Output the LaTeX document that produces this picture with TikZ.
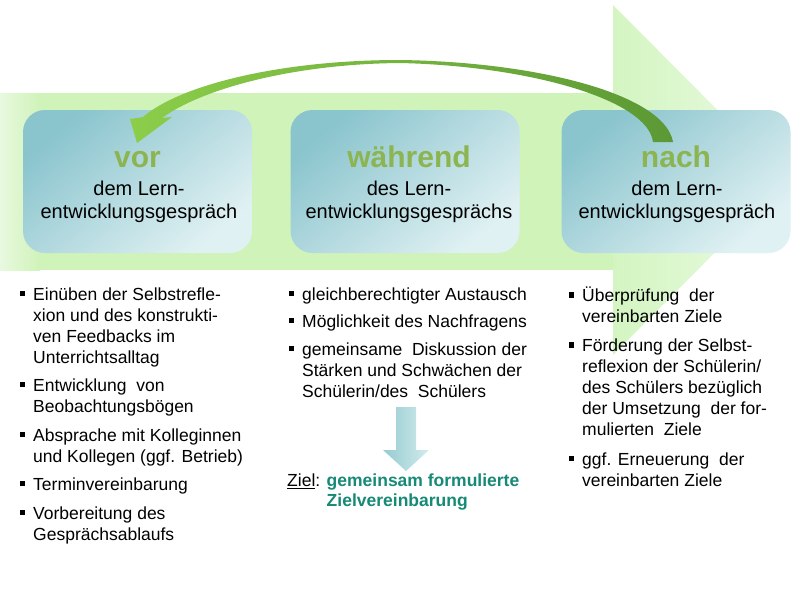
\documentclass[tikz,border=0pt]{standalone}
\usepackage{fontspec}
\setmainfont{Liberation Sans}
\definecolor{bodygreen}{RGB}{208,243,185}
\definecolor{bodyfade}{RGB}{232,249,224}
\definecolor{headgreen}{RGB}{212,245,194}
\definecolor{headfade}{RGB}{234,250,226}
\definecolor{boxdark}{RGB}{138,196,205}
\definecolor{boxlight}{RGB}{224,241,243}
\definecolor{titlegreen}{RGB}{140,180,80}
\definecolor{arrowlight}{RGB}{140,206,74}
\definecolor{arrowdark}{RGB}{92,152,52}
\definecolor{zielteal}{RGB}{22,138,118}
\definecolor{downdark}{RGB}{150,203,208}
\definecolor{downlight}{RGB}{210,235,237}
\newcommand\mybullet{\makebox[0pt][r]{\rule[4pt]{5.5pt}{5.5pt}\hspace{8pt}}}
\newcommand\mylines[1]{\begin{tabular}[t]{@{}l@{}}#1\end{tabular}}
\begin{document}
\begin{tikzpicture}[x=1pt,y=-1pt,
  phase/.style={rounded corners=22pt, top color=boxdark, bottom color=boxlight,
    shading angle=40, minimum width=229pt, minimum height=143pt, inner sep=0pt},
  phasetitle/.style={anchor=base, inner sep=0pt, text=titlegreen,
    font=\fontsize{30}{35}\selectfont\bfseries},
  phasesub/.style={anchor=base, inner sep=0pt, font=\fontsize{20}{23}\selectfont},
  listitem/.style={anchor=base west, inner sep=0pt,
    font=\fontsize{17.5}{21}\selectfont}]
\useasboundingbox (0,0) rectangle (800,600);
\fill[white] (0,0) rectangle (800,600);
% big background arrow
\shade[left color=bodyfade, right color=bodygreen] (0,93) rectangle (40,270);
\fill[bodygreen] (39.5,93) rectangle (613.5,270);
\shade[left color=headgreen, right color=headfade] (613,5) -- (787,180) -- (613,355) -- cycle;
% phase boxes
\node[phase] (b1) at (137.5,181.5) {};
\node[phase] (b2) at (405,181.5) {};
\node[phase] (b3) at (676,181.5) {};
% curved arrow
\shade[left color=arrowlight, right color=arrowdark]
  (673,142) .. controls (665,95) and (540,62) .. (400,60)
  .. controls (280,60) and (180,85) .. (143,117)
  -- (130,119) -- (137,143) -- (172,117) -- (162,118)
  .. controls (200,90) and (290,64) .. (400,63)
  .. controls (530,66) and (648,100) .. (653,142) -- cycle;
% titles
\node[phasetitle] (t1) at (137.5,167) {vor};
\node[phasetitle] (t2) at (409,167) {während};
\node[phasetitle] (t3) at (676,167) {nach};
\node[phasesub] (s1a) at (139,195) {dem Lern-};
\node[phasesub] (s1b) at (139,218) {entwicklungsgespräch};
\node[phasesub] (s2a) at (409,195) {des Lern-};
\node[phasesub] (s2b) at (409,218) {entwicklungsgesprächs};
\node[phasesub] (s3a) at (677,195) {dem Lern-};
\node[phasesub] (s3b) at (677,218) {entwicklungsgespräch};
% left list
\node[listitem] (l1) at (33,300) {\mylines{\mybullet Einüben der Selbstrefle-\\xion und des konstrukti-\\ven Feedbacks im\\Unterrichtsalltag}};
\node[listitem] (l2) at (33,391) {\mylines{\mybullet Entwicklung\ \ von\\Beobachtungsbögen}};
\node[listitem] (l3) at (33,441) {\mylines{\mybullet Absprache mit Kolleginnen\\und Kollegen (ggf. Betrieb)}};
\node[listitem] (l4) at (33,490) {\mylines{\mybullet Terminvereinbarung}};
\node[listitem] (l5) at (33,519) {\mylines{\mybullet Vorbereitung des\\Gesprächsablaufs}};
% middle list
\node[listitem] (m1) at (302,300) {\mylines{\mybullet gleichberechtigter Austausch}};
\node[listitem] (m2) at (302,327) {\mylines{\mybullet Möglichkeit des Nachfragens}};
\node[listitem] (m3) at (302,355) {\mylines{\mybullet gemeinsame\ \ Diskussion der\\Stärken und Schwächen der\\Schülerin/des\ \ Schülers}};
% down arrow
\shade[left color=downdark, right color=downlight]
  (396,407) -- (416,407) -- (416,450) -- (429,450) -- (406,471)
  -- (383,450) -- (396,450) -- cycle;
\node[listitem, font=\fontsize{17.5}{20}\selectfont] (z) at (287,486.5)
  {\mylines{\underline{Ziel}: \textcolor{zielteal}{\bfseries gemeinsam formulierte}\\
   \hphantom{Ziel: }\textcolor{zielteal}{\bfseries Zielvereinbarung}}};
% right list
\node[listitem] (r1) at (582,301.5) {\mylines{\mybullet Überprüfung\ \ der\\vereinbarten Ziele}};
\node[listitem] (r2) at (582,351.5) {\mylines{\mybullet Förderung der Selbst-\\reflexion der Schülerin/\\des Schülers bezüglich\\der Umsetzung\ \ der for-\\mulierten\ \ Ziele}};
\node[listitem] (r3) at (582,465) {\mylines{\mybullet ggf. Erneuerung\ \ der\\vereinbarten Ziele}};
\end{tikzpicture}
\end{document}
